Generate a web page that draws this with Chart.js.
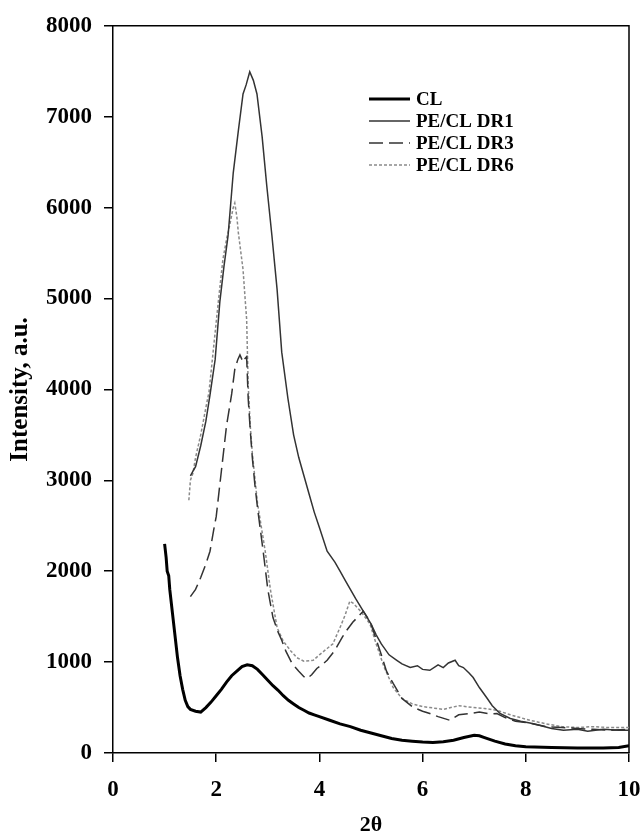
<!DOCTYPE html>
<html>
<head>
<meta charset="utf-8">
<script src="https://cdn.jsdelivr.net/npm/chart.js@4"></script>
<style>
  html, body { margin: 0; padding: 0; background: #fff; }
  #wrap { width: 642px; height: 839px; }
</style>
</head>
<body>
<div id="wrap"><canvas id="c" width="642" height="839"></canvas></div>
<script>
// series labels
const seriesNames = ['CL', 'PE/CL DR1', 'PE/CL DR3', 'PE/CL DR6'];

// CL
const clX = [1.00, 1.03, 1.05, 1.08, 1.10, 1.15, 1.20, 1.25, 1.30, 1.35, 1.40, 1.45, 1.50, 1.60, 1.70, 1.80, 1.90, 2.00, 2.10, 2.20, 2.30, 2.40, 2.50, 2.60, 2.70, 2.80, 2.90, 3.00, 3.10, 3.20, 3.30, 3.40, 3.50, 3.60, 3.70, 3.80, 3.90, 4.00, 4.20, 4.40, 4.60, 4.80, 5.00, 5.20, 5.40, 5.60, 5.80, 6.00, 6.20, 6.40, 6.60, 6.80, 7.00, 7.10, 7.20, 7.40, 7.60, 7.80, 8.00, 8.50, 9.00, 9.50, 9.80, 10.0];
const clY = [2300, 2150, 2000, 1950, 1800, 1550, 1300, 1050, 850, 700, 580, 510, 480, 460, 450, 500, 560, 630, 700, 780, 850, 900, 950, 970, 960, 920, 860, 800, 740, 690, 630, 580, 540, 500, 470, 440, 420, 400, 360, 320, 290, 250, 220, 190, 160, 140, 130, 120, 115, 125, 140, 170, 195, 190, 170, 130, 100, 80, 70, 60, 55, 55, 60, 80];

// PE/CL DR1
const dr1X = [1.50, 1.55, 1.60, 1.70, 1.80, 1.88, 1.98, 2.07, 2.15, 2.23, 2.33, 2.43, 2.52, 2.58, 2.65, 2.72, 2.79, 2.89, 2.98, 3.08, 3.18, 3.27, 3.39, 3.50, 3.60, 3.70, 3.80, 3.90, 4.00, 4.15, 4.30, 4.40, 4.50, 4.60, 4.70, 4.85, 5.00, 5.10, 5.20, 5.35, 5.50, 5.60, 5.76, 5.90, 6.00, 6.14, 6.30, 6.40, 6.50, 6.63, 6.70, 6.79, 6.90, 6.98, 7.10, 7.24, 7.35, 7.50, 7.70, 7.90, 8.08, 8.30, 8.50, 8.73, 9.00, 9.20, 9.50, 9.80, 10.0];
const dr1Y = [3050, 3100, 3150, 3380, 3650, 3940, 4330, 4960, 5350, 5690, 6380, 6850, 7250, 7350, 7495, 7400, 7250, 6780, 6240, 5690, 5100, 4410, 3900, 3500, 3250, 3050, 2850, 2650, 2480, 2220, 2100, 2000, 1900, 1800, 1700, 1560, 1420, 1300, 1200, 1080, 1020, 980, 940, 960, 920, 910, 970, 940, 990, 1020, 960, 940, 880, 830, 720, 610, 520, 435, 380, 350, 330, 300, 270, 250, 260, 240, 260, 250, 250];

// PE/CL DR3
const dr3X = [1.50, 1.60, 1.70, 1.80, 1.88, 1.95, 2.00, 2.10, 2.20, 2.30, 2.36, 2.42, 2.46, 2.52, 2.56, 2.59, 2.62, 2.66, 2.70, 2.75, 2.80, 2.91, 3.00, 3.10, 3.20, 3.27, 3.35, 3.47, 3.60, 3.70, 3.76, 3.85, 3.95, 4.05, 4.15, 4.30, 4.45, 4.53, 4.65, 4.75, 4.85, 4.92, 5.00, 5.10, 5.20, 5.30, 5.43, 5.60, 5.81, 6.00, 6.14, 6.30, 6.53, 6.70, 6.92, 7.10, 7.30, 7.44, 7.60, 7.80, 8.08, 8.40, 8.70, 9.00, 9.30, 9.60, 10.0];
const dr3Y = [1720, 1800, 1930, 2080, 2220, 2450, 2600, 3100, 3600, 3950, 4220, 4330, 4380, 4300, 4340, 4360, 3900, 3550, 3250, 2950, 2700, 2220, 1800, 1490, 1330, 1240, 1120, 985, 900, 840, 820, 860, 930, 970, 1020, 1130, 1280, 1350, 1440, 1500, 1560, 1500, 1420, 1250, 1080, 900, 765, 600, 505, 460, 435, 400, 360, 420, 435, 450, 430, 435, 390, 350, 330, 290, 280, 270, 260, 250, 260];

// PE/CL DR6
const dr6X = [1.47, 1.50, 1.55, 1.60, 1.70, 1.80, 1.86, 1.94, 2.04, 2.13, 2.20, 2.27, 2.33, 2.36, 2.40, 2.43, 2.52, 2.56, 2.59, 2.62, 2.66, 2.70, 2.80, 2.95, 3.05, 3.18, 3.30, 3.45, 3.56, 3.70, 3.88, 4.00, 4.15, 4.26, 4.40, 4.50, 4.59, 4.65, 4.80, 4.98, 5.10, 5.25, 5.43, 5.60, 5.80, 6.00, 6.14, 6.40, 6.70, 6.98, 7.20, 7.44, 7.70, 8.08, 8.40, 8.70, 9.00, 9.30, 9.60, 10.0];
const dr6Y = [2780, 3000, 3080, 3250, 3500, 3800, 3970, 4410, 4960, 5430, 5650, 5830, 6000, 6050, 5900, 5720, 5320, 5000, 4770, 4050, 3600, 3300, 2750, 2220, 1800, 1380, 1230, 1120, 1050, 1010, 1020, 1080, 1150, 1200, 1380, 1520, 1670, 1650, 1560, 1420, 1200, 950, 720, 600, 540, 510, 500, 480, 520, 500, 490, 470, 420, 360, 320, 290, 280, 290, 280, 280];

const xTicks = [0, 2, 4, 6, 8, 10];
const yTicks = [0, 1000, 2000, 3000, 4000, 5000, 6000, 7000, 8000];

const pts = (xs, ys) => xs.map((x, i) => ({ x: x, y: ys[i] }));

const serif = '"Liberation Serif", "Times New Roman", serif';

// frame on top and right, the axes draw left and bottom
const framePlugin = {
  id: 'frame',
  beforeDatasetsDraw(chart) {
    const a = chart.chartArea;
    const ctx = chart.ctx;
    ctx.save();
    ctx.strokeStyle = '#000';
    ctx.lineWidth = 1.5;
    ctx.beginPath();
    ctx.moveTo(a.left, a.top);
    ctx.lineTo(a.right, a.top);
    ctx.lineTo(a.right, a.bottom);
    ctx.stroke();
    ctx.restore();
  }
};

// legend sits inside the plot, so draw it by hand
const insideLegend = {
  id: 'insideLegend',
  afterDatasetsDraw(chart) {
    const ctx = chart.ctx;
    const x0 = 369, x1 = 410, tx = 416;
    const y0 = 99, step = 22;
    ctx.save();
    ctx.font = 'bold 19px ' + serif;
    ctx.textBaseline = 'middle';
    chart.data.datasets.forEach((ds, i) => {
      const y = y0 + i * step;
      ctx.strokeStyle = ds.borderColor;
      ctx.lineWidth = ds.borderWidth;
      ctx.setLineDash(ds.borderDash || []);
      ctx.beginPath();
      ctx.moveTo(x0, y);
      ctx.lineTo(x1, y);
      ctx.stroke();
      ctx.setLineDash([]);
      ctx.fillStyle = '#000';
      ctx.fillText(ds.label, tx, y + 1);
    });
    ctx.restore();
  }
};

new Chart(document.getElementById('c'), {
  type: 'line',
  data: {
    datasets: [
      { label: seriesNames[0], data: pts(clX, clY), borderColor: '#000', borderWidth: 3 },
      { label: seriesNames[1], data: pts(dr1X, dr1Y), borderColor: '#333', borderWidth: 1.5 },
      { label: seriesNames[2], data: pts(dr3X, dr3Y), borderColor: '#333', borderWidth: 1.5, borderDash: [14, 6] },
      { label: seriesNames[3], data: pts(dr6X, dr6Y), borderColor: '#8a8a8a', borderWidth: 1.5, borderDash: [3, 2] }
    ]
  },
  options: {
    responsive: false,
    animation: false,
    layout: { padding: { left: 0, right: 13, top: 22, bottom: 0 } },
    elements: { point: { radius: 0 }, line: { tension: 0 } },
    plugins: { legend: { display: false }, tooltip: { enabled: false } },
    scales: {
      x: {
        type: 'linear',
        min: 0, max: 10,
        afterBuildTicks: s => { s.ticks = xTicks.map(v => ({ value: v })); },
        afterFit: s => { s.height = 86; s.paddingRight = 0; s.paddingLeft = 0; },
        grid: { drawOnChartArea: false, drawTicks: true, tickLength: 9, color: '#000', lineWidth: 1.5 },
        border: { display: true, color: '#000', width: 1.5 },
        ticks: { color: '#000', padding: 14, maxRotation: 0, callback: v => String(v), font: { family: serif, size: 23, weight: 'bold' } },
        title: { display: true, text: '2θ', color: '#000', padding: { top: 6, bottom: 0 }, font: { family: serif, size: 22, weight: 'bold' } }
      },
      y: {
        type: 'linear',
        min: 0, max: 8000,
        afterBuildTicks: s => { s.ticks = yTicks.map(v => ({ value: v })); },
        afterFit: s => { s.width = 113; },
        grid: { drawOnChartArea: false, drawTicks: true, tickLength: 9, color: '#000', lineWidth: 1.5 },
        border: { display: true, color: '#000', width: 1.5 },
        ticks: { color: '#000', padding: 12, callback: v => String(v), font: { family: serif, size: 23, weight: 'bold' } },
        title: { display: true, text: 'Intensity, a.u.', color: '#000', padding: { top: 6, bottom: 0 }, font: { family: serif, size: 25, weight: 'bold' } }
      }
    }
  },
  plugins: [framePlugin, insideLegend]
});
</script>
</body>
</html>
